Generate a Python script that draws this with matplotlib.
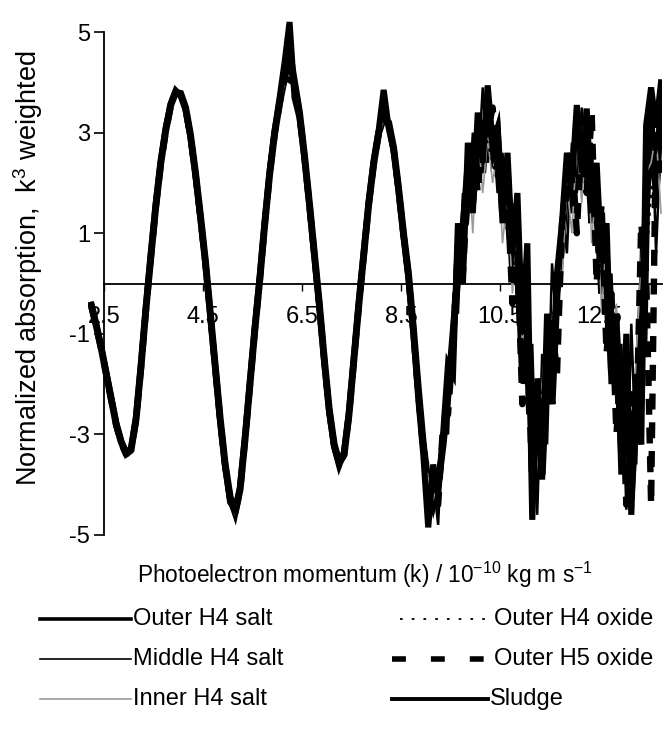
import matplotlib
matplotlib.use("Agg")
import matplotlib.pyplot as plt
from matplotlib.lines import Line2D
import numpy as np

plt.rcParams["font.family"] = ["Liberation Sans", "DejaVu Sans"]
plt.rcParams["mathtext.fontset"] = "custom"
plt.rcParams["mathtext.rm"] = "Liberation Sans"
plt.rcParams["mathtext.default"] = "regular"
plt.rcParams["axes.unicode_minus"] = False

# photoelectron momentum grid (k), sampled every 0.1
K = np.round(np.arange(2.25, 13.76, 0.1), 2)

OUTER_H4_SALT = [
    -0.45, -0.85, -1.30, -1.80, -2.30, -2.80, -3.15, -3.38, -3.30, -2.70,
    -1.65, -0.50, 0.55, 1.55, 2.40, 3.05, 3.55, 3.80, 3.78, 3.50,
    2.95, 2.20, 1.35, 0.45, -0.60, -1.65, -2.70, -3.60, -4.25, -4.55,
    -4.10, -3.10, -2.00, -0.90, 0.10, 1.20, 2.20, 3.00, 3.60, 4.10,
    4.60, 4.00, 3.40, 2.55, 1.60, 0.60, -0.40, -1.50, -2.50, -3.20,
    -3.55, -3.40, -2.60, -1.50, -0.40, 0.60, 1.60, 2.40, 3.00, 3.30,
    3.20, 2.70, 1.90, 1.00, 0.20, -0.90, -2.10, -3.20, -4.00, -4.40,
    -4.00, -3.20, -2.20, -1.00, 0.20, 1.10, 2.30, 1.60, 2.90, 2.20,
    3.60, 2.60, 3.00, 1.40, 2.20, 0.30, 0.90, -1.80, -0.80, -3.20,
    -2.20, -3.80, -1.60, -2.40, -0.20, 0.80, 2.20, 1.40, 3.30, 2.00,
    3.00, 1.20, 1.90, -0.20, 0.50, -1.80, -0.90, -3.30, -2.00, -4.20,
    -2.60, -0.50, 1.50, 3.20, 1.80, 3.60]
MIDDLE_H4_SALT = [
    -0.40, -0.80, -1.25, -1.75, -2.25, -2.75, -3.10, -3.35, -3.25, -2.60,
    -1.55, -0.40, 0.65, 1.65, 2.50, 3.15, 3.60, 3.85, 3.75, 3.40,
    2.85, 2.10, 1.25, 0.30, -0.75, -1.80, -2.85, -3.75, -4.40, -4.65,
    -4.00, -2.95, -1.85, -0.75, 0.25, 1.35, 2.35, 3.15, 3.75, 4.30,
    4.20, 3.85, 3.25, 2.40, 1.45, 0.45, -0.55, -1.65, -2.65, -3.35,
    -3.70, -3.30, -2.45, -1.35, -0.25, 0.75, 1.75, 2.55, 3.10, 3.50,
    3.05, 2.55, 1.70, 0.80, 0.00, -1.10, -2.40, -3.60, -4.60, -3.90,
    -4.80, -2.60, -3.00, -0.40, -0.60, 1.80, 1.20, 3.00, 2.10, 3.90,
    2.40, 3.20, 1.80, 2.60, 0.90, 1.60, -0.60, 0.40, -2.60, -1.20,
    -4.60, -1.40, -3.20, 0.40, -1.00, 1.60, 0.60, 2.80, 1.80, 3.50,
    2.40, 2.80, 0.60, 1.40, -1.00, 0.20, -2.40, -1.20, -4.50, -0.80,
    -3.60, 0.80, -1.20, 3.90, 0.60, 3.00]
INNER_H4_SALT = [
    -0.50, -0.90, -1.35, -1.85, -2.35, -2.85, -3.20, -3.42, -3.35, -2.75,
    -1.70, -0.55, 0.50, 1.50, 2.35, 3.00, 3.50, 3.75, 3.80, 3.55,
    3.00, 2.25, 1.40, 0.50, -0.55, -1.60, -2.65, -3.55, -4.20, -4.60,
    -4.15, -3.15, -2.05, -0.95, 0.05, 1.15, 2.15, 2.95, 3.55, 4.00,
    4.10, 3.95, 3.45, 2.60, 1.65, 0.65, -0.35, -1.45, -2.45, -3.15,
    -3.50, -3.45, -2.65, -1.55, -0.45, 0.55, 1.55, 2.35, 2.95, 3.25,
    3.25, 2.75, 1.95, 1.05, 0.25, -0.80, -2.00, -3.10, -3.90, -4.30,
    -3.90, -3.40, -2.00, -1.40, 0.60, 0.40, 2.60, 1.00, 3.10, 1.80,
    2.90, 2.00, 2.70, 0.80, 1.80, -0.20, 1.20, -1.20, -0.20, -2.60,
    -3.00, -2.00, -0.80, -1.80, 0.60, 0.00, 2.00, 1.00, 2.80, 1.60,
    3.20, 0.80, 2.20, -0.60, 1.00, -1.40, -0.40, -2.80, -1.60, -3.60,
    -1.40, 0.40, 2.20, 2.40, 3.00, 1.40]
OUTER_H4_OXIDE = [
    -0.40, -0.85, -1.30, -1.80, -2.30, -2.78, -3.12, -3.35, -3.28, -2.68,
    -1.62, -0.48, 0.58, 1.58, 2.42, 3.08, 3.58, 3.82, 3.80, 3.52,
    2.98, 2.22, 1.38, 0.48, -0.58, -1.62, -2.68, -3.58, -4.22, -4.52,
    -4.08, -3.08, -1.98, -0.88, 0.12, 1.22, 2.22, 3.02, 3.62, 4.12,
    4.20, 4.02, 3.42, 2.58, 1.62, 0.62, -0.38, -1.48, -2.48, -3.18,
    -3.52, -3.38, -2.58, -1.48, -0.38, 0.62, 1.62, 2.42, 3.02, 3.32,
    3.22, 2.72, 1.92, 1.02, 0.22, -0.70, -1.80, -2.90, -3.60, -4.10,
    -3.60, -3.00, -2.40, -0.60, -0.20, 1.40, 1.60, 2.40, 2.60, 3.00,
    2.80, 2.40, 2.00, 1.60, 1.00, 0.60, -0.20, -1.00, -1.80, -2.40,
    -2.80, -2.20, -1.60, -0.80, 0.00, 1.00, 1.80, 2.40, 2.80, 2.60,
    2.40, 1.80, 1.20, 0.40, -0.40, -1.20, -2.00, -2.80, -3.20, -3.00,
    -2.20, -1.00, 0.40, 1.80, 2.60, 3.00]
OUTER_H5_OXIDE = [
    -0.45, -0.88, -1.32, -1.82, -2.32, -2.82, -3.18, -3.40, -3.32, -2.72,
    -1.68, -0.52, 0.52, 1.52, 2.38, 3.02, 3.52, 3.78, 3.76, 3.48,
    2.92, 2.18, 1.32, 0.42, -0.62, -1.68, -2.72, -3.62, -4.28, -4.58,
    -4.12, -3.12, -2.02, -0.92, 0.08, 1.18, 2.18, 2.98, 3.58, 4.08,
    4.05, 3.98, 3.38, 2.52, 1.58, 0.58, -0.42, -1.52, -2.52, -3.22,
    -3.58, -3.42, -2.62, -1.52, -0.42, 0.58, 1.58, 2.38, 2.98, 3.28,
    3.18, 2.68, 1.88, 0.98, 0.18, -0.95, -2.20, -3.30, -4.20, -4.10,
    -4.40, -2.80, -2.60, -1.20, 0.80, 0.20, 2.00, 2.80, 1.80, 3.20,
    3.00, 3.50, 2.20, 2.00, 1.80, -0.40, 0.60, -2.40, -1.00, -4.00,
    -1.80, -3.40, -2.00, -0.80, -1.80, 1.20, 1.80, 2.60, 1.00, 3.00,
    1.80, 3.40, 0.00, 1.60, -1.40, -0.20, -3.00, -1.60, -4.40, -2.20,
    -3.00, 1.20, 0.20, -4.40, 3.40, 2.20]
SLUDGE = [
    -0.42, -0.82, -1.28, -1.78, -2.28, -2.78, -3.14, -3.36, -3.28, -2.66,
    -1.60, -0.45, 0.60, 1.60, 2.45, 3.10, 3.58, 3.84, 3.74, 3.45,
    2.90, 2.15, 1.30, 0.40, -0.65, -1.70, -2.75, -3.65, -4.35, -4.50,
    -4.05, -3.05, -1.95, -0.85, 0.15, 1.25, 2.25, 3.05, 3.70, 4.40,
    5.20, 3.70, 3.30, 2.50, 1.55, 0.55, -0.45, -1.55, -2.55, -3.25,
    -3.62, -3.35, -2.55, -1.45, -0.35, 0.65, 1.65, 2.45, 3.05, 3.85,
    3.10, 2.65, 1.85, 0.95, 0.10, -1.00, -2.30, -3.40, -4.85, -3.60,
    -4.20, -3.00, -1.60, -1.80, 1.20, 0.00, 2.80, 1.40, 3.40, 2.40,
    3.94, 2.80, 3.10, 1.20, 2.60, 0.60, 1.80, -1.00, 0.80, -4.70,
    -2.00, -3.90, -0.60, -2.20, 0.20, 1.20, 2.60, 2.00, 3.55, 2.20,
    3.48, 1.40, 2.40, 0.40, 1.20, -2.00, -0.60, -3.80, -1.00, -4.60,
    -1.80, -3.20, 3.15, 3.90, 3.10, 4.00]

XTICKS = [2.5, 4.5, 6.5, 8.5, 10.5, 12.5]
YTICKS = [-5, -3, -1, 1, 3, 5]

# (label, data, style kwargs)
SERIES = [
    ("Outer H4 salt", OUTER_H4_SALT, dict(color="black", lw=5.0)),
    ("Middle H4 salt", MIDDLE_H4_SALT, dict(color="black", lw=1.8)),
    ("Inner H4 salt", INNER_H4_SALT, dict(color="#9a9a9a", lw=1.2)),
    ("Outer H4 oxide", OUTER_H4_OXIDE, dict(color="black", lw=1.6, ls=(0, (1.5, 2.5)))),
    ("Outer H5 oxide", OUTER_H5_OXIDE, dict(color="black", lw=4.6, ls=(0, (2.5, 2)))),
    ("Sludge", SLUDGE, dict(color="black", lw=4.4)),
]

fig = plt.figure(figsize=(6.63, 7.29), dpi=100)
ax = fig.add_axes([88/663, 1-550/729, 574/663, 538/729])
for name, y, kw in SERIES:
    ax.plot(K, y, zorder=3, solid_joinstyle="miter", **kw)

ax.set_xlim(2.18, 13.77)
ax.set_ylim(-5.3, 5.4)
for s in ("top", "right"):
    ax.spines[s].set_visible(False)
ax.spines["left"].set_position(("data", 2.5))
ax.spines["left"].set_bounds(-5, 5)
ax.spines["bottom"].set_position(("data", 0))
ax.spines["bottom"].set_bounds(2.5, 13.77)
for s in ("left", "bottom"):
    ax.spines[s].set_linewidth(1.3)
    ax.spines[s].set_zorder(1)
ax.set_xticks(XTICKS)
ax.set_xticklabels([f"{v:g}" for v in XTICKS])
ax.set_yticks(YTICKS)
ax.tick_params(axis="x", direction="out", length=5, width=1.0, pad=11, labelsize=17)
ax.tick_params(axis="y", direction="out", length=7, width=1.2, pad=3, labelsize=17)

fig.text(28/663, 1-268/729, "Normalized absorption,  k$^3$ weighted",
         rotation=90, ha="center", va="center", fontsize=19.5)
fig.text(365/663, 1-575/729, "Photoelectron momentum (k) / 10$^{-10}$ kg m s$^{-1}$",
         ha="center", va="center", fontsize=16.3)

# legend drawn by hand, two columns below the axis title
LEG = [
    ("Outer H4 salt", 40, 131, 133, 619, dict(color="black", lw=2.6)),
    ("Middle H4 salt", 40, 131, 133, 659, dict(color="black", lw=1.2)),
    ("Inner H4 salt", 40, 131, 133, 699, dict(color="#9a9a9a", lw=1.2)),
    ("Outer H4 oxide", 400, 488, 494, 619, dict(color="black", lw=1.3, ls=(0, (1.5, 5)))),
    ("Outer H5 oxide", 392, 492, 494, 659, dict(color="black", lw=4.0, ls=(0, (2.5, 4.5)))),
    ("Sludge", 392, 488, 490, 699, dict(color="black", lw=2.8)),
]
for name, x0, x1, xt, yy, kw in LEG:
    fig.add_artist(Line2D([x0/663, x1/663], [1-yy/729, 1-yy/729], **kw))
    fig.text(xt/663, 1-yy/729, name, ha="left", va="center", fontsize=17)

fig.savefig("out.png", dpi=100)
